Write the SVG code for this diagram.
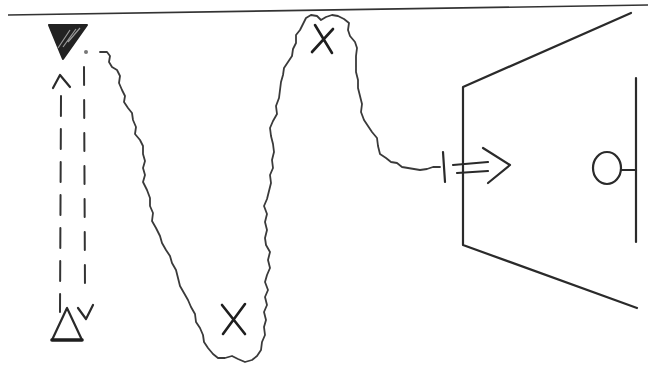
<svg xmlns="http://www.w3.org/2000/svg" width="648" height="365" viewBox="0 0 648 365">
<style>
.ink{fill:none;stroke:#2a2a2a;stroke-width:2.2;stroke-linecap:round;stroke-linejoin:round}
.wave{fill:none;stroke:#3a3a3a;stroke-width:1.8;stroke-linecap:round;stroke-linejoin:round}
.dash{fill:none;stroke:#333;stroke-width:2;stroke-linecap:round}
.xmark{fill:none;stroke:#1e1e1e;stroke-width:2.6;stroke-linecap:round}
</style>
<rect width="648" height="365" fill="#ffffff"/>
<line x1="8" y1="15" x2="648" y2="5" stroke="#333" stroke-width="1.6"/>

<g id="start">
<polygon points="49,25 87,25 63,59" fill="#222" stroke="#222" stroke-width="2" stroke-linejoin="round"/>
<path d="M58,48 L70,30 M63,47 L76,29 M68,42 L80,28" stroke="#9a9a9a" stroke-width="1.2" fill="none"/>
<circle cx="86" cy="52" r="2" fill="#777"/>
</g>

<g id="finish">
<polygon points="67,308 52,340 82,340" class="ink"/>
<line x1="52" y1="340" x2="82" y2="340" stroke="#1e1e1e" stroke-width="3.6" stroke-linecap="round"/>
</g>

<g id="x-low">
<path class="xmark" d="M222,305 L245,334 M245,304 L223,334"/>
</g>

<g id="x-high">
<path class="xmark" d="M315,25 L332,53 M333,29 L312,52"/>
</g>

<g id="goal">
<path class="ink" d="M631,13 L463,87 L463,245 L637,308"/>
<line x1="636" y1="78" x2="636" y2="242" class="ink"/>
</g>

<g id="ball">
<ellipse cx="607" cy="168" rx="14" ry="16" class="ink"/>
<line x1="621" y1="170" x2="636" y2="170" class="ink"/>
</g>

<g id="connectors">
<line x1="61" y1="96" x2="60" y2="312" class="dash" stroke-dasharray="20 13"/>
<polyline points="53,88 60,75 70,87" class="ink"/>
<line x1="84" y1="67" x2="85" y2="292" class="dash" stroke-dasharray="18 15"/>
<polyline points="78,308 86,319 93,305" class="ink"/>
<polyline class="wave" points="100,52 107,52 110,56 109,62 112,67 117,70 120,76 119,83 122,90 125,96 124,102 128,108 132,113 133,120 136,127 135,134 140,140 143,146 143,154 145,161 143,168 145,175 143,182 147,190 150,198 150,206 153,213 152,221 156,228 160,236 162,243 166,250 170,256 172,263 176,270 178,278 180,286 184,293 188,300 191,307 195,314 196,322 200,328 203,335 204,342 208,348 213,354 218,358 225,358 232,356 238,359 245,362 252,360 257,356 261,350 262,342 265,335 264,327 266,320 264,312 267,305 265,297 268,290 265,282 267,275 270,268 268,260 270,252 266,245 265,238 267,230 265,222 267,214 264,206 267,199 269,191 271,183 270,175 273,168 272,160 274,152 273,144 271,136 270,128 273,121 277,114 276,106 279,98 280,90 281,82 283,75 284,68 288,62 292,56 293,49 296,43 296,35 300,30 303,24 306,18 311,15 317,16 321,20 326,17 332,15 338,16 344,19 349,23 348,30 350,36 355,42 357,48 356,56 356,64 356,72 358,80 358,88 360,96 362,104 361,112 364,120 368,126 372,132 377,138 378,146 380,154 386,158 391,162 397,163 402,167 408,168 414,169 420,170 427,169 433,167 440,167"/>
<line x1="443" y1="152" x2="445" y2="182" class="ink"/>
<line x1="453" y1="165" x2="488" y2="162" class="ink"/>
<line x1="457" y1="173" x2="488" y2="171" class="ink"/>
<polyline points="483,148 510,165 488,183" class="ink"/>
</g>
</svg>
